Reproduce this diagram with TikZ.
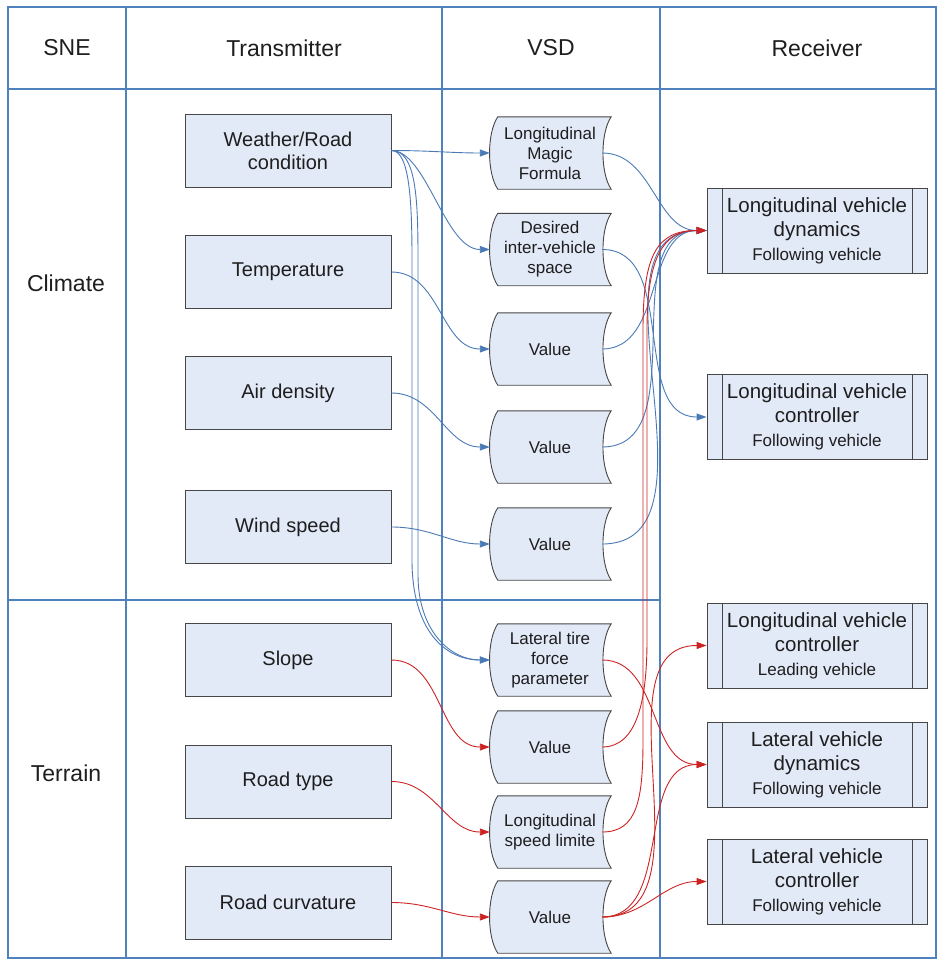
\documentclass[tikz,border=0pt]{standalone}
\usepackage{fontspec}
\setmainfont{Liberation Sans}
\usetikzlibrary{arrows.meta}
\definecolor{gridblue}{RGB}{79,129,189}
\definecolor{boxfill}{RGB}{226,233,247}
\definecolor{boxline}{RGB}{70,70,70}
\definecolor{linkblue}{RGB}{74,122,182}
\definecolor{linkred}{RGB}{205,35,35}
\definecolor{textgray}{RGB}{30,30,30}
\tikzset{
  gridline/.style={draw=gridblue, line width=1.5pt},
  headlabel/.style={text=textgray, font=\fontsize{23}{27}\selectfont},
  trbox/.style={draw=boxline, fill=boxfill, line width=0.9pt,
    minimum width=206pt, minimum height=73pt, inner sep=0pt,
    align=center, text=textgray, font=\fontsize{20}{23}\selectfont},
  vsdbox/.style={minimum width=112pt, minimum height=72pt, inner sep=0pt},
  vsdline/.style={draw=boxline, fill=boxfill, line width=0.9pt},
  vsdtext/.style={align=center, inner sep=0pt, text=textgray,
    font=\fontsize{17}{20}\selectfont},
  recvbox/.style={draw=boxline, fill=boxfill, line width=0.9pt,
    minimum width=220pt, minimum height=85pt, inner sep=0pt,
    align=center, text=textgray, font=\fontsize{20.5}{24}\selectfont,
    path picture={
      \draw[boxline, line width=0.9pt]
        ([xshift=15pt]path picture bounding box.north west) -- ([xshift=15pt]path picture bounding box.south west)
        ([xshift=-15pt]path picture bounding box.north east) -- ([xshift=-15pt]path picture bounding box.south east);
    }},
  bluelink/.style={draw=linkblue, line width=0.9pt, -{Triangle[length=10pt,width=7pt]}},
  redlink/.style={draw=linkred, line width=0.9pt, -{Triangle[length=10pt,width=7pt]}},
}
\newcommand{\subline}[1]{{\fontsize{17}{20}\selectfont #1}}
% stored-data shape of the VSD column: name, y, text
\newcommand{\vsd}[3]{%
  \node[vsdbox] (#1) at (546,#2) {};
  \filldraw[vsdline] ([xshift=8pt]#1.north west) .. controls +(-11,16) and +(-11,-16) .. ([xshift=8pt]#1.south west)
    -- ([xshift=9pt]#1.south east) .. controls +(-11,-16) and +(-11,16) .. ([xshift=9pt]#1.north east) -- cycle;
  \node[vsdtext] (#1-txt) at ([xshift=4pt]#1.center) {#3};
}

\begin{document}
\begin{tikzpicture}[x=1pt,y=-1pt]
  \useasboundingbox (0,0) rectangle (938,961);
  % table
  \draw[gridline] (8,7) rectangle (936,958);
  \draw[gridline] (8,89) -- (936,89);
  \draw[gridline] (126,7) -- (126,958);
  \draw[gridline] (442,7) -- (442,958);
  \draw[gridline] (660,7) -- (660,958);
  \draw[gridline] (8,600) -- (660,600);

  \node[headlabel] (hsne) at (67,48) {SNE};
  \node[headlabel] (htrans) at (284,48) {Transmitter};
  \node[headlabel] (hvsd) at (551,48) {VSD};
  \node[headlabel] (hrecv) at (817,48) {Receiver};
  \node[headlabel] (climate) at (66,283) {Climate};
  \node[headlabel] (terrain) at (66,773) {Terrain};

  % transmitters
  \node[trbox] (weather) at (288,150.5) {Weather/Road\\condition};
  \node[trbox] (temp) at (288,272) {Temperature};
  \node[trbox] (air) at (288,393) {Air density};
  \node[trbox] (wind) at (288,527) {Wind speed};
  \node[trbox] (slope) at (288,660) {Slope};
  \node[trbox] (roadtype) at (288,781.5) {Road type};
  \node[trbox] (curv) at (288,902.5) {Road curvature};

  % VSD
  \vsd{magic}{153}{Longitudinal\\Magic\\Formula}
  \vsd{desired}{249.5}{Desired\\inter-vehicle\\space}
  \vsd{valT}{349}{Value}
  \vsd{valA}{447}{Value}
  \vsd{valW}{544}{Value}
  \vsd{lateral}{660}{Lateral tire\\force\\parameter}
  \vsd{valS}{747}{Value}
  \vsd{speed}{832}{Longitudinal\\speed limite}
  \vsd{valC}{917}{Value}

  % receivers
  \node[recvbox] (dyn) at (817,230.5) {Longitudinal vehicle\\dynamics\\\subline{Following vehicle}};
  \node[recvbox] (ctrlF) at (817,417) {Longitudinal vehicle\\controller\\\subline{Following vehicle}};
  \node[recvbox] (leading) at (817,645.5) {Longitudinal vehicle\\controller\\\subline{Leading vehicle}};
  \node[recvbox] (latdyn) at (817,764.5) {Lateral vehicle\\dynamics\\\subline{Following vehicle}};
  \node[recvbox] (latctrl) at (817,881.5) {Lateral vehicle\\controller\\\subline{Following vehicle}};

  % climate links
  \draw[bluelink] (weather.east) to[out=0,in=180] (magic.west);
  \draw[bluelink] (weather.east) .. controls +(35,0) and +(-45,0) .. (desired.west);
  \draw[bluelink] (weather.east) .. controls +(18,0) and +(0,-60) .. (412,260) -- (412,560) .. controls +(0,70) and +(-45,0) .. (lateral.west);
  \draw[bluelink] (weather.east) .. controls +(25,0) and +(0,-60) .. (418,260) -- (418,575) .. controls +(0,55) and +(-40,0) .. (lateral.west);
  \draw[bluelink] (temp.east) to[out=0,in=180] (valT.west);
  \draw[bluelink] (air.east) to[out=0,in=180] (valA.west);
  \draw[bluelink] (wind.east) to[out=0,in=180] (valW.west);
  \draw[bluelink] (magic.east) to[out=0,in=180] (dyn.west);
  \draw[bluelink] (desired.east) to[out=0,in=180] (ctrlF.west);
  \draw[bluelink] (valT.east) to[out=0,in=180] (dyn.west);
  \draw[bluelink] (valA.east) to[out=0,in=180] (dyn.west);
  \draw[bluelink] (valW.east) to[out=0,in=180] (dyn.west);

  % terrain links
  \draw[redlink] (slope.east) to[out=0,in=180] (valS.west);
  \draw[redlink] (roadtype.east) to[out=0,in=180] (speed.west);
  \draw[redlink] (curv.east) to[out=0,in=180] (valC.west);
  \draw[redlink] (valS.east) .. controls +(35,0) and +(0,60) .. (647,640) -- (647,330) .. controls +(0,-70) and +(-45,0) .. (dyn.west);
  \draw[redlink] (speed.east) .. controls +(35,0) and +(0,60) .. (643,740) -- (643,330) .. controls +(0,-75) and +(-50,0) .. (dyn.west);
  \draw[redlink] (lateral.east) to[out=0,in=180] (latdyn.west);
  \draw[redlink] (valC.east) to[out=0,in=180] (leading.west);
  \draw[redlink] (valC.east) to[out=0,in=180] (latdyn.west);
  \draw[redlink] (valC.east) to[out=0,in=180] (latctrl.west);
\end{tikzpicture}
\end{document}
